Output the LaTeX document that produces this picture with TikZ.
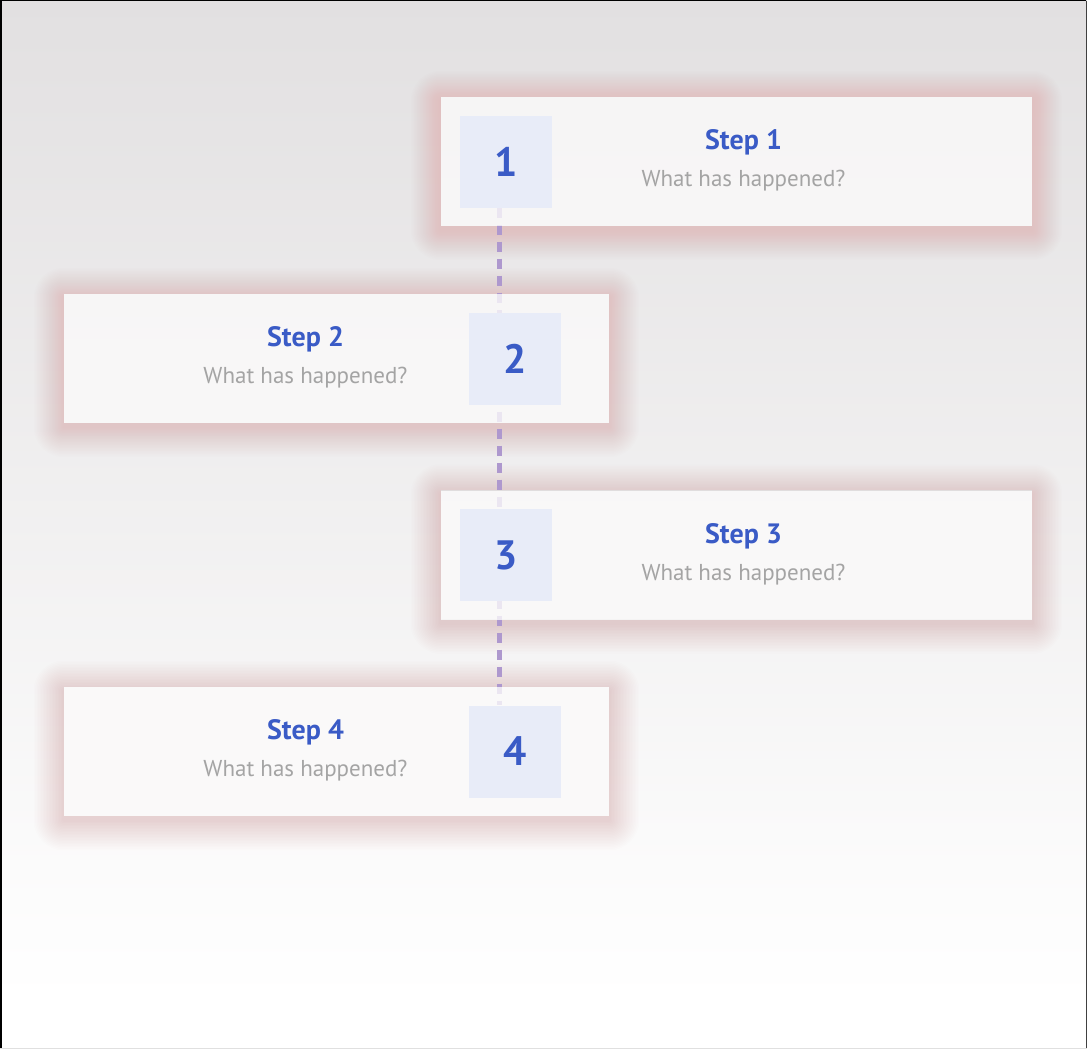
\documentclass[tikz,border=0pt]{standalone}
\usepackage{fontspec}
\setmainfont{PT Sans}
\usetikzlibrary{positioning}

\definecolor{stepblue}{HTML}{3A5BC6}
\definecolor{numfill}{HTML}{E8ECF8}
\definecolor{cardfill}{HTML}{FBFAFA}
\definecolor{subgray}{HTML}{A4A4A4}
\definecolor{glowred}{HTML}{E07070}
\definecolor{linkpurple}{HTML}{AE98CE}
\definecolor{bgtop}{HTML}{E2E0E1}

\pgfdeclarelayer{bg}
\pgfdeclarelayer{glow}
\pgfdeclarelayer{link}
\pgfsetlayers{bg,glow,link,main}

\tikzset{
  card/.style={fill=cardfill, fill opacity=0.8, text opacity=1, inner sep=0pt, minimum height=129pt},
  numbox/.style={fill=numfill, minimum size=92pt, inner sep=0pt, text=stepblue,
    font=\fontsize{41}{41}\selectfont\bfseries},
  steptitle/.style={anchor=base, inner sep=0pt, text=stepblue, font=\fontsize{28}{28}\selectfont\bfseries},
  stepsub/.style={anchor=base, inner sep=0pt, text=subgray, font=\fontsize{23}{23}\selectfont},
  link/.style={draw=linkpurple, line width=5pt, dash pattern=on 10pt off 7pt},
}

\begin{document}
\begin{tikzpicture}[x=1pt, y=-1pt]
    \useasboundingbox (0,0) rectangle (1087,1049);

    % Cards
    \node[card, minimum width=591pt] (box1) at (736.5,161.5) {};
    \node[card, minimum width=545pt] (box2) at (336.5,358.5) {};
    \node[card, minimum width=591pt] (box3) at (736.5,555) {};
    \node[card, minimum width=545pt] (box4) at (336.5,751.5) {};

    % Number squares
    \node[numbox, anchor=west] (num1) at ([xshift=19pt]box1.west) {1};
    \node[numbox, anchor=east] (num2) at ([xshift=-48pt]box2.east) {2};
    \node[numbox, anchor=west] (num3) at ([xshift=19pt]box3.west) {3};
    \node[numbox, anchor=east] (num4) at ([xshift=-48pt]box4.east) {4};

    % Titles and questions
    \node[steptitle] (title1) at (743.5,149) {Step 1};
    \node[stepsub] (sub1) at (743.5,186) {What has happened?};
    \node[steptitle] (title2) at (305.5,346) {Step 2};
    \node[stepsub] (sub2) at (305.5,383) {What has happened?};
    \node[steptitle] (title3) at (743.5,543) {Step 3};
    \node[stepsub] (sub3) at (743.5,580) {What has happened?};
    \node[steptitle] (title4) at (305.5,739) {Step 4};
    \node[stepsub] (sub4) at (305.5,776) {What has happened?};

    % Background and frame
    \begin{pgfonlayer}{bg}
        \shade[top color=bgtop, bottom color=white] (0,0) rectangle (1087,1000);
        \fill[white] (0,1000) rectangle (1087,1049);
        \draw[black, line width=1.5pt] (0.75,1049) -- (0.75,0.75) -- (1086.25,0.75);
        \draw[black!75, line width=1.5pt] (1086.25,0.75) -- (1086.25,1049);
        \draw[black!12, line width=1pt] (0,1048.5) -- (1087,1048.5);
    \end{pgfonlayer}

    % Soft reddish glow outside the cards
    \begin{pgfonlayer}{glow}
        \foreach \b in {box1,box2,box3,box4} {
            \begin{scope}[even odd rule]
                \clip (0,0) rectangle (1087,1049) (\b.north west) rectangle (\b.south east);
                \foreach \r in {1.5,3,...,30} {
                    \fill[glowred, fill opacity=0.011, rounded corners=\r pt]
                        ([shift={(-\r,-\r+4)}]\b.north west) rectangle ([shift={(\r,\r+4)}]\b.south east);
                }
            \end{scope}
        }
    \end{pgfonlayer}

    % Dashed line behind the cards
    \coordinate (axis) at (499,0);
    \begin{pgfonlayer}{link}
        \draw[link] (num1.south -| axis) -- (num4.north -| axis);
    \end{pgfonlayer}
\end{tikzpicture}
\end{document}
